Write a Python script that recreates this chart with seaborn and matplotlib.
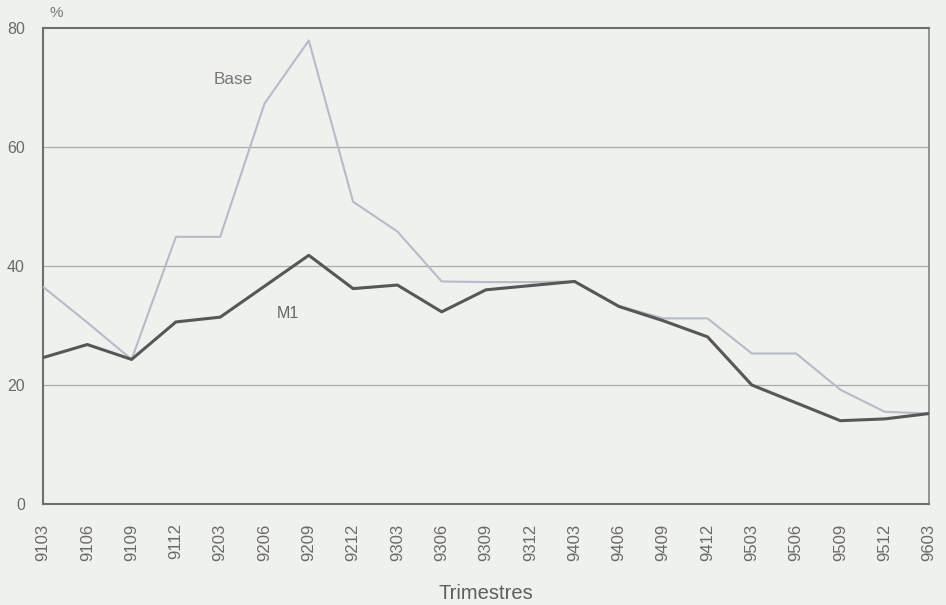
import matplotlib
matplotlib.use("Agg")
import matplotlib.pyplot as plt
import seaborn as sns
import pandas as pd

quarters = ["9103", "9106", "9109", "9112", "9203", "9206", "9209", "9212",
            "9303", "9306", "9309", "9312", "9403", "9406", "9409", "9412",
            "9503", "9506", "9509", "9512", "9603"]
base = [36.5, 30.5, 24.3, 44.9, 44.9, 67.3, 77.9, 50.8, 45.8, 37.4, 37.3,
        37.3, 37.4, 33.3, 31.2, 31.2, 25.3, 25.3, 19.2, 15.5, 15.2]
m1 = [24.6, 26.8, 24.3, 30.6, 31.4, 36.6, 41.8, 36.2, 36.8, 32.3, 36.0,
      36.7, 37.4, 33.2, 30.8, 28.1, 20.0, 17.0, 14.0, 14.3, 15.2]
series_names = ["Base", "M1"]
y_ticks = [0, 20, 40, 60, 80]

df = pd.DataFrame({"Trimestre": quarters, "Base": base, "M1": m1})
long = df.melt(id_vars="Trimestre", var_name="Série", value_name="Valeur")
long["pos"] = long["Trimestre"].map({q: i for i, q in enumerate(quarters)})

sns.set_theme(style="white")
plt.rcParams["font.family"] = ["Liberation Sans", "DejaVu Sans"]

bg = "#eef1ec"
fig = plt.figure(figsize=(9.46, 6.05), dpi=100, facecolor=bg)
ax = fig.add_axes([43 / 946, 1 - 504 / 605, (929 - 43) / 946, (504 - 28) / 605])
ax.set_facecolor(bg)

for y in y_ticks[1:-1]:
    ax.axhline(y, color="#a9aca6", lw=0.9, zorder=1)

palette = {"Base": "#b3bccd", "M1": "#575757"}
sizes = {"Base": 1.5, "M1": 2.2}
for name in series_names:
    sub = long[long["Série"] == name]
    sns.lineplot(data=sub, x="pos", y="Valeur", color=palette[name],
                 lw=sizes[name], ax=ax, zorder=3, legend=False)

ax.set_xlim(0, len(quarters) - 1)
ax.set_ylim(0, 80)
ax.set_xticks(range(len(quarters)))
ax.set_xticklabels(quarters, rotation=90)
ax.set_yticks(y_ticks)
ax.tick_params(axis="x", length=0, pad=14, labelsize=12, labelcolor="#6a6a6a")
ax.tick_params(axis="y", length=0, pad=13, labelsize=11.5, labelcolor="#6a6a6a")
ax.set_xlabel("Trimestres", fontsize=14.5, color="#5e5e5e", labelpad=17)
ax.set_ylabel("")

for side in ["left", "bottom", "top"]:
    ax.spines[side].set_color("#6e6e6e")
    ax.spines[side].set_linewidth(1.5)
ax.spines["right"].set_color("#8a8a8a")
ax.spines["right"].set_linewidth(1.3)

ax.text(4.29, 71.3, "Base", fontsize=12.3, color="#7a7580", ha="center", va="center")
ax.text(5.53, 32.1, "M1", fontsize=11.5, color="#666666", ha="center", va="center")
fig.text(56 / 946, 1 - 13 / 605, "%", fontsize=11, color="#777777", ha="center", va="center")

fig.savefig("out.png", dpi=100, facecolor=bg)
